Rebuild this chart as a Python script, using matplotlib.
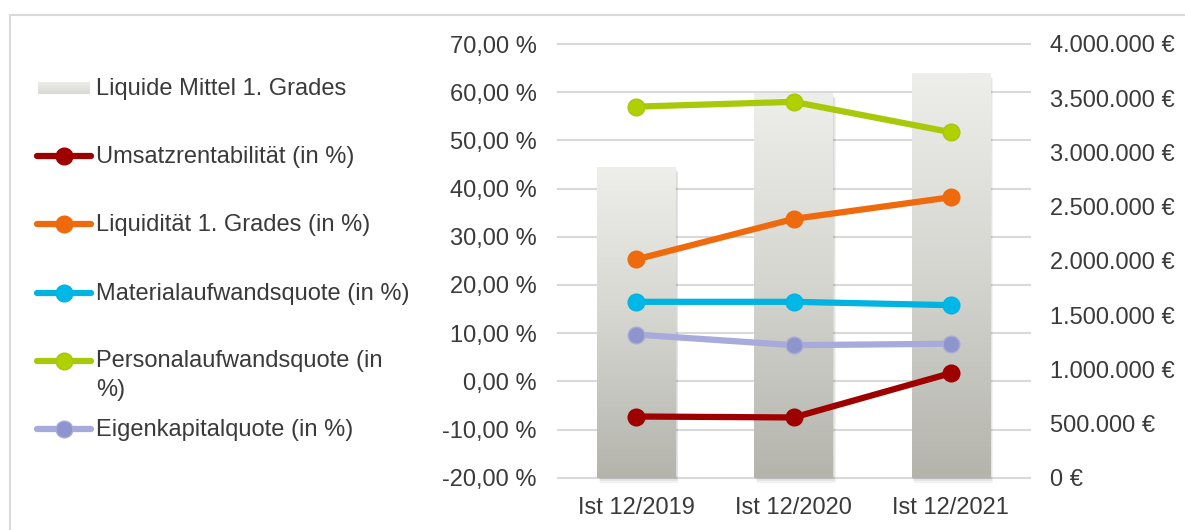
import numpy as np
import matplotlib.pyplot as plt
from matplotlib.patches import Rectangle
from matplotlib.lines import Line2D
from matplotlib.colors import LinearSegmentedColormap

plt.rcParams['font.family'] = ['Liberation Sans', 'DejaVu Sans']

# Daten
categories = ['Ist 12/2019', 'Ist 12/2020', 'Ist 12/2021']
liquide_mittel = [2863000, 3545000, 3730000]           # rechte Achse (EUR)
umsatzrentabilitaet = [-7.3, -7.5, 1.7]
liquiditaet = [25.3, 33.7, 38.2]
materialquote = [16.5, 16.5, 15.8]
personalquote = [57.0, 58.0, 51.7]
eigenkapitalquote = [9.7, 7.5, 7.8]

pct_ticks = [-20, -10, 0, 10, 20, 30, 40, 50, 60, 70]
eur_ticks = [0, 500000, 1000000, 1500000, 2000000, 2500000, 3000000, 3500000, 4000000]

series = [
    ('Umsatzrentabilität (in %)', umsatzrentabilitaet, '#9E0000', '#9E0000'),
    ('Liquidität 1. Grades (in %)', liquiditaet, '#EE6A0C', '#EE6A0C'),
    ('Materialaufwandsquote (in %)', materialquote, '#00B3E0', '#00B8E8'),
    ('Personalaufwandsquote (in\n%)', personalquote, '#A8C80A', '#B0D000'),
    ('Eigenkapitalquote (in %)', eigenkapitalquote, '#A6ABDB', '#8E94CC'),
]

W, H = 1185, 530
fig = plt.figure(figsize=(W / 100, H / 100), dpi=100)
txt = '#3A3A3A'
fs = 17

# Rahmen
fig.patches.append(Rectangle((10 / W, -0.1), 1.2, 1.1 - 15 / H, transform=fig.transFigure,
                             fill=False, edgecolor='#D9D9D9', lw=1.5))

ax = fig.add_axes([557.7 / W, 1 - 477.7 / H, (1029.5 - 557.7) / W, (477.7 - 44) / H])
ax2 = ax.twinx()

x = np.arange(len(categories))
bw = 0.5
ax.set_xlim(-0.5, len(categories) - 0.5)
ax.set_ylim(0, eur_ticks[-1])

# Gitterlinien (Prozentachse) hinter den Balken
for p in pct_ticks:
    f = (p - pct_ticks[0]) / (pct_ticks[-1] - pct_ticks[0])
    ax.plot([0, 1], [f, f], transform=ax.transAxes, color='#D9D9D9', lw=1.5, zorder=0,
            clip_on=False)

# Balken mit Verlauf
cmap = LinearSegmentedColormap.from_list('g', ['#B4B4AD', '#D4D5CF', '#EEEFEA'])
grad = np.linspace(0, 1, 256).reshape(-1, 1)
for xi, v in zip(x, liquide_mittel):
    for k, a in enumerate([0.05, 0.05, 0.05]):
        ax.add_patch(Rectangle((xi - bw / 2 + 0.006 * (k + 1), -15000 * (k + 1)), bw, v,
                               facecolor='black', alpha=a, lw=0, zorder=1, clip_on=False))
    ax.imshow(grad, extent=(xi - bw / 2, xi + bw / 2, 0, v), origin='lower', cmap=cmap,
              aspect='auto', zorder=2, interpolation='bilinear')
ax.set_xlim(-0.5, len(categories) - 0.5)
ax.set_ylim(0, eur_ticks[-1])

# Linien
for label, vals, lc, mc in series:
    ax2.plot(x, vals, color=lc, lw=4.5, solid_capstyle='round', marker='o', markersize=12,
             markerfacecolor=mc, markeredgecolor=lc, markeredgewidth=1, zorder=3)
ax2.set_ylim(pct_ticks[0], pct_ticks[-1])

# Achsen
ax.yaxis.tick_right()
ax.set_yticks(eur_ticks)
ax.set_yticklabels([f'{v:,}'.replace(',', '.') + ' €' for v in eur_ticks])
ax2.yaxis.tick_left()
ax2.set_yticks(pct_ticks)
ax2.set_yticklabels([f'{v:.2f}'.replace('.', ',') + ' %' for v in pct_ticks])
ax.set_xticks(x)
ax.set_xticklabels(categories)
for a in (ax, ax2):
    for s in a.spines.values():
        s.set_visible(False)
    a.tick_params(length=0, labelsize=fs, colors=txt)
ax.tick_params(axis='y', pad=15)
ax2.tick_params(axis='y', pad=15)
ax.tick_params(axis='x', pad=14)
ax.patch.set_visible(False)
ax2.patch.set_visible(False)

# Legende
lx0, lx1, tx = 37 / W, 91 / W, 96 / W
bar_y = 1 - 88 / H
lax = fig.add_axes([38 / W, bar_y - 6 / H, 52 / W, 12 / H])
lax.imshow(np.linspace(0.95, 0.6, 16).reshape(-1, 1), cmap=cmap, aspect='auto',
           vmin=0, vmax=1, extent=(0, 1, 0, 1), origin='upper')
lax.axis('off')
fig.text(tx, bar_y - 1 / H, 'Liquide Mittel 1. Grades', fontsize=fs, color=txt, va='center')

ycent = [156, 224, 293, 361, 429]
for (label, vals, lc, mc), yc in zip(series, ycent):
    yf = 1 - yc / H
    fig.add_artist(Line2D([lx0, lx1], [yf, yf], transform=fig.transFigure, color=lc, lw=4.5,
                          solid_capstyle='round'))
    fig.add_artist(Line2D([(lx0 + lx1) / 2], [yf], transform=fig.transFigure, marker='o',
                          markersize=12, markerfacecolor=mc, markeredgecolor=lc))
    if '\n' in label:
        fig.text(tx, yf + 11 / H, label, fontsize=fs, color=txt, va='top', linespacing=1.4)
    else:
        fig.text(tx, yf - 1 / H, label, fontsize=fs, color=txt, va='center')

fig.savefig('out.png', dpi=100)
